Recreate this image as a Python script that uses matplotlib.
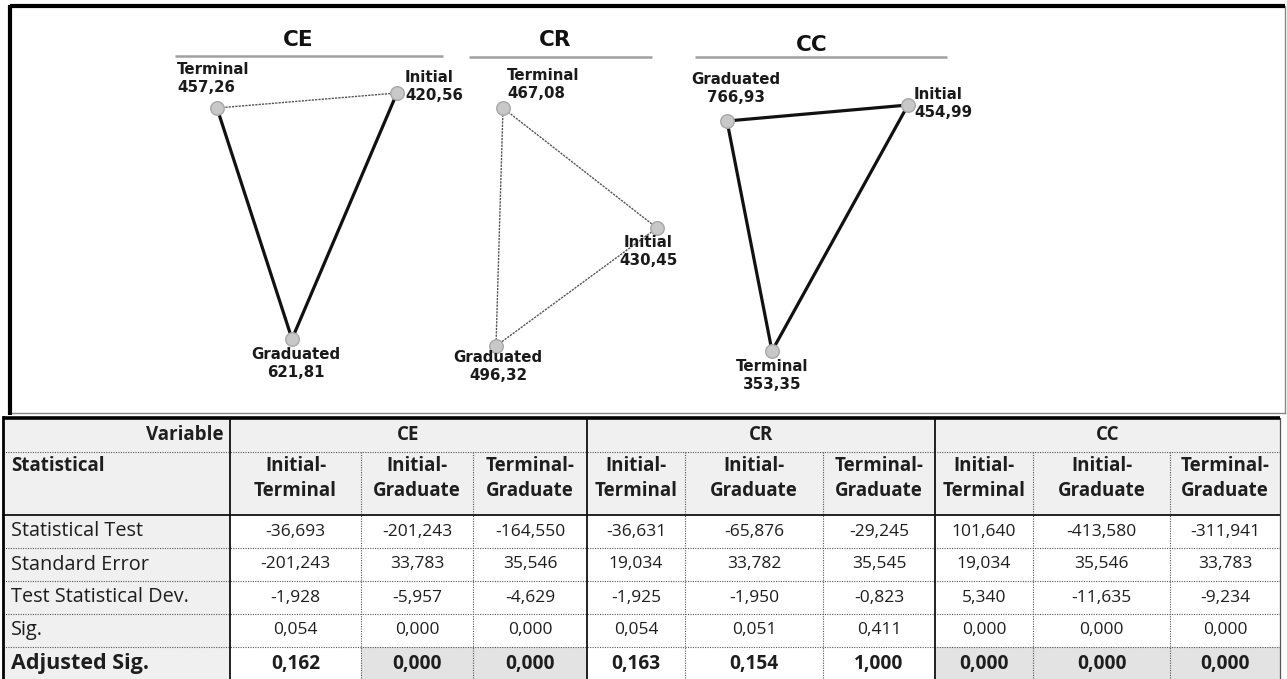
import matplotlib
matplotlib.use("Agg")
import matplotlib.pyplot as plt
from matplotlib.patches import Rectangle

# ---------------- data ----------------
groups = ["CE", "CR", "CC"]
stages = ["Initial", "Terminal", "Graduated"]
ce_mean_rank = [420.56, 457.26, 621.81]
cr_mean_rank = [430.45, 467.08, 496.32]
cc_mean_rank = [454.99, 353.35, 766.93]

pair_labels = ["Initial-\nTerminal", "Initial-\nGraduate", "Terminal-\nGraduate"]
pair_idx = [(0, 1), (0, 2), (1, 2)]
row_labels = ["Statistical Test", "Standard Error", "Test Statistical Dev.", "Sig.", "Adjusted Sig."]

ce_stats = [[-36.693, -201.243, -164.550],
            [-201.243, 33.783, 35.546],
            [-1.928, -5.957, -4.629],
            [0.054, 0.000, 0.000],
            [0.162, 0.000, 0.000]]
cr_stats = [[-36.631, -65.876, -29.245],
            [19.034, 33.782, 35.545],
            [-1.925, -1.950, -0.823],
            [0.054, 0.051, 0.411],
            [0.163, 0.154, 1.000]]
cc_stats = [[101.640, -413.580, -311.941],
            [19.034, 35.546, 33.783],
            [5.340, -11.635, -9.234],
            [0.000, 0.000, 0.000],
            [0.000, 0.000, 0.000]]

mean_ranks = {"CE": ce_mean_rank, "CR": cr_mean_rank, "CC": cc_mean_rank}
stats = {"CE": ce_stats, "CR": cr_stats, "CC": cc_stats}

# ---------------- layout (pixels) ----------------
node_xy = {"CE": [(397, 93), (217, 108), (292, 339)],
           "CR": [(657, 228), (503, 108), (496, 346)],
           "CC": [(908, 105), (772, 351), (727, 121)]}
label_pos = {"CE": [(405, 70, "left"), (177, 62, "left"), (296, 347, "center")],
             "CR": [(648, 235, "center"), (507, 68, "left"), (498, 350, "center")],
             "CC": [(914, 87, "left"), (772, 359, "center"), (736, 72, "center")]}
title_pos = {"CE": (298, 40, 175, 443, 56),
             "CR": (555, 40, 469, 652, 57),
             "CC": (812, 45, 695, 947, 57)}

W, H = 1287, 679
fig = plt.figure(figsize=(W / 100, H / 100), dpi=100)
ax = fig.add_axes([0, 0, 1, 1])
ax.set_xlim(0, W)
ax.set_ylim(H, 0)
ax.axis("off")

TRI_FONT = ["DejaVu Sans"]
TAB_FONT = ["Open Sans", "DejaVu Sans"]

def fmt(v):
    return f"{v:.3f}".replace(".", ",")

def fmt2(v):
    return f"{v:.2f}".replace(".", ",")

# ---------------- top panel frame ----------------
ax.plot([10, 1285], [413, 413], color="#888888", lw=1.0, zorder=1)
ax.plot([1285, 1285], [6, 413], color="#888888", lw=1.0, zorder=1)
ax.plot([10, 1285], [6, 6], color="black", lw=3.0, zorder=1, solid_capstyle="butt")
ax.plot([10, 10], [5, 415], color="black", lw=3.0, zorder=1, solid_capstyle="butt")

# ---------------- triangles ----------------
for g in groups:
    tx, ty, ux0, ux1, uy = title_pos[g]
    ax.text(tx, ty, g, ha="center", va="center", fontsize=15.5, fontweight="bold",
            family=TRI_FONT, color="#111111")
    ax.plot([ux0, ux1], [uy, uy], color="#a0a0a0", lw=1.8, solid_capstyle="butt")
    pts = node_xy[g]
    adj = stats[g][4]
    for k, (i, j) in enumerate(pair_idx):
        xs = [pts[i][0], pts[j][0]]
        ys = [pts[i][1], pts[j][1]]
        if adj[k] < 0.05:
            ax.plot(xs, ys, color="#111111", lw=2.3, zorder=2, solid_capstyle="round")
        else:
            ax.plot(xs, ys, color="#555555", lw=1.0, ls=(0, (1.6, 0.8)), zorder=2)
    ax.scatter([p[0] for p in pts], [p[1] for p in pts], s=95, facecolor="#c8c8c8",
               edgecolor="#a8a8a8", linewidth=1.0, zorder=3)
    for s, name in enumerate(stages):
        lx, ly, ha = label_pos[g][s]
        ax.text(lx, ly, f"{name}\n{fmt2(mean_ranks[g][s])}", ha=ha, va="top",
                fontsize=10.8, fontweight="bold", family=TRI_FONT, color="#1a1a1a",
                linespacing=1.25, multialignment=ha)

# ---------------- table ----------------
col_edges = [3, 230, 361, 473, 587, 685, 823, 935, 1033, 1170, 1280]
row_edges = [418, 452, 515, 548, 581, 614, 647, 680]
hdr_fill = "#f0f0f0"
shade_fill = "#e3e3e3"
txt_col = "#1e1e1e"

ax.add_patch(Rectangle((col_edges[0], row_edges[0]), col_edges[-1] - col_edges[0],
                       row_edges[2] - row_edges[0], facecolor=hdr_fill, edgecolor="none", zorder=0))
ax.add_patch(Rectangle((col_edges[0], row_edges[2]), col_edges[1] - col_edges[0],
                       row_edges[-1] - row_edges[2], facecolor=hdr_fill, edgecolor="none", zorder=0))

for gi, g in enumerate(groups):
    for k in range(3):
        if stats[g][4][k] < 0.05:
            c0 = col_edges[1 + gi * 3 + k]
            c1 = col_edges[2 + gi * 3 + k]
            ax.add_patch(Rectangle((c0, row_edges[6]), c1 - c0, row_edges[7] - row_edges[6],
                                   facecolor=shade_fill, edgecolor="none", zorder=0))

dot = (0, (1, 1.2))
for y in [row_edges[1]] + row_edges[3:7]:
    ax.plot([col_edges[0], col_edges[-1]], [y, y], color="#555555", lw=0.8, ls=dot, zorder=1)
for gi in range(3):
    for k in (1, 2):
        x = col_edges[gi * 3 + 1 + k]
        ax.plot([x, x], [row_edges[1], H], color="#555555", lw=0.8, ls=dot, zorder=1)
ax.plot([col_edges[0], col_edges[-1]], [row_edges[2], row_edges[2]], color="#111111", lw=1.3, zorder=1)
for gi in range(3):
    x = col_edges[gi * 3 + 1]
    ax.plot([x, x], [row_edges[0], H], color="#111111", lw=1.3, zorder=1)
ax.plot([col_edges[-1], col_edges[-1]], [row_edges[0], H], color="#555555", lw=0.9, zorder=1)
ax.plot([col_edges[0], col_edges[0]], [row_edges[0] - 1, H], color="black", lw=2.0, zorder=1)
ax.plot([col_edges[0], col_edges[-1]], [row_edges[0], row_edges[0]], color="black", lw=2.6,
        zorder=1, solid_capstyle="butt")

HDR_FS = 13.5
ax.text(col_edges[1] - 7, (row_edges[0] + row_edges[1]) / 2, "Variable", ha="right", va="center",
        fontsize=HDR_FS, fontweight="bold", family=TAB_FONT, color=txt_col)
ax.text(col_edges[0] + 8, 466, "Statistical", ha="left", va="center",
        fontsize=HDR_FS, fontweight="bold", family=TAB_FONT, color=txt_col)
for gi, g in enumerate(groups):
    x0 = col_edges[gi * 3 + 1]
    x1 = col_edges[gi * 3 + 4]
    ax.text((x0 + x1) / 2, (row_edges[0] + row_edges[1]) / 2, g, ha="center", va="center",
            fontsize=HDR_FS, fontweight="bold", family=TAB_FONT, color=txt_col)
    for k in range(3):
        c0 = col_edges[gi * 3 + 1 + k]
        c1 = col_edges[gi * 3 + 2 + k]
        top, bot = pair_labels[k].split("\n")
        ax.text((c0 + c1) / 2, 466, top, ha="center", va="center", fontsize=HDR_FS,
                fontweight="bold", family=TAB_FONT, color=txt_col)
        ax.text((c0 + c1) / 2, 491, bot, ha="center", va="center", fontsize=HDR_FS,
                fontweight="bold", family=TAB_FONT, color=txt_col)

for r, lab in enumerate(row_labels):
    yc = (row_edges[2 + r] + row_edges[3 + r]) / 2
    last = r == len(row_labels) - 1
    ax.text(col_edges[0] + 8, yc, lab, ha="left", va="center",
            fontsize=15.5 if last else 14.3, fontweight="bold" if last else "normal",
            family=TAB_FONT, color=txt_col)
    for gi, g in enumerate(groups):
        for k in range(3):
            c0 = col_edges[gi * 3 + 1 + k]
            c1 = col_edges[gi * 3 + 2 + k]
            ax.text((c0 + c1) / 2, yc, fmt(stats[g][r][k]), ha="center", va="center",
                    fontsize=13.8 if last else 12.5, fontweight="bold" if last else "normal",
                    family=TAB_FONT, color=txt_col)

fig.savefig("out.png", dpi=100, facecolor="white")
